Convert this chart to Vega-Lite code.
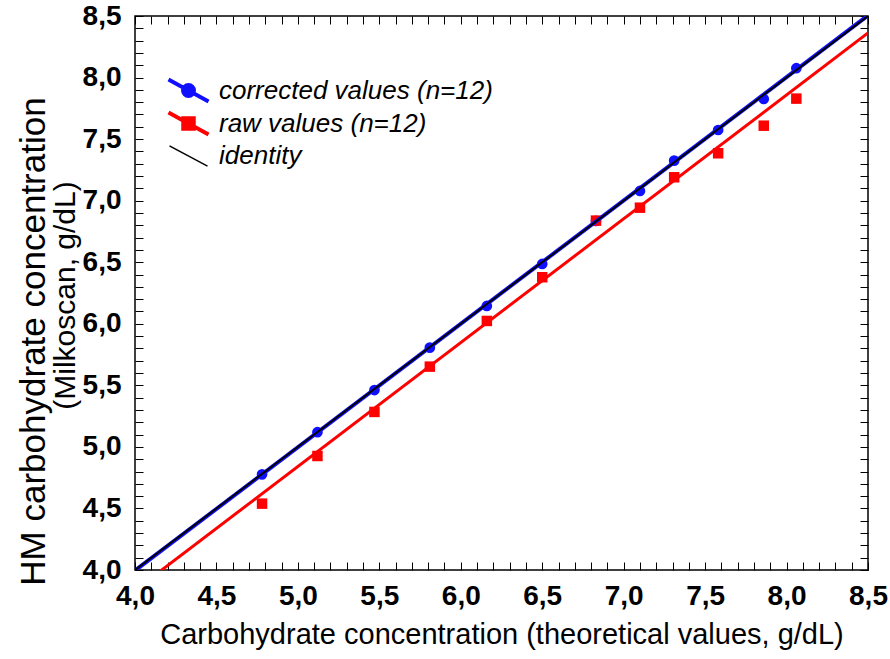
{
  "$schema": "https://vega.github.io/schema/vega-lite/v6.json",
  "autosize": {"type": "none"},
  "width": 733,
  "height": 554,
  "padding": {"left": 135, "top": 16, "right": 22, "bottom": 89},
  "background": "white",
  "config": {
    "font": "Liberation Sans",
    "view": {"stroke": "#000000", "strokeWidth": 1.5},
    "axis": {
      "grid": false,
      "domain": false,
      "tickColor": "#000000",
      "tickWidth": 1,
      "labelFont": "Liberation Sans",
      "labelFontWeight": "bold",
      "labelFontSize": 28,
      "labelColor": "#000000",
      "labelOverlap": false,
      "labelFlush": false,
      "labelBound": false,
      "titleFont": "Liberation Sans",
      "titleFontWeight": "normal",
      "titleFontSize": 29,
      "titleColor": "#000000"
    },
    "legend": {
      "title": null,
      "orient": "none",
      "legendX": 40,
      "legendY": 61,
      "padding": 0,
      "symbolSize": 500,
      "symbolOpacity": 1,
      "rowPadding": -6,
      "labelOffset": 17,
      "labelFont": "Liberation Sans",
      "labelFontStyle": "italic",
      "labelFontSize": 26,
      "labelColor": "#000000",
      "labelLimit": 500
    }
  },
  "datasets": {
    "points": [
      {"series": "corrected values (n=12)", "theoretical": 4.78, "measured": 4.777},
      {"series": "corrected values (n=12)", "theoretical": 5.12, "measured": 5.119},
      {"series": "corrected values (n=12)", "theoretical": 5.47, "measured": 5.462},
      {"series": "corrected values (n=12)", "theoretical": 5.81, "measured": 5.806},
      {"series": "corrected values (n=12)", "theoretical": 6.16, "measured": 6.145},
      {"series": "corrected values (n=12)", "theoretical": 6.50, "measured": 6.486},
      {"series": "corrected values (n=12)", "theoretical": 6.83, "measured": 6.835},
      {"series": "corrected values (n=12)", "theoretical": 7.10, "measured": 7.079},
      {"series": "corrected values (n=12)", "theoretical": 7.31, "measured": 7.325},
      {"series": "corrected values (n=12)", "theoretical": 7.58, "measured": 7.574},
      {"series": "corrected values (n=12)", "theoretical": 7.86, "measured": 7.826},
      {"series": "corrected values (n=12)", "theoretical": 8.06, "measured": 8.076},
      {"series": "raw values (n=12)", "theoretical": 4.78, "measured": 4.539},
      {"series": "raw values (n=12)", "theoretical": 5.12, "measured": 4.926},
      {"series": "raw values (n=12)", "theoretical": 5.47, "measured": 5.284},
      {"series": "raw values (n=12)", "theoretical": 5.81, "measured": 5.652},
      {"series": "raw values (n=12)", "theoretical": 6.16, "measured": 6.023},
      {"series": "raw values (n=12)", "theoretical": 6.50, "measured": 6.378},
      {"series": "raw values (n=12)", "theoretical": 6.83, "measured": 6.838},
      {"series": "raw values (n=12)", "theoretical": 7.10, "measured": 6.943},
      {"series": "raw values (n=12)", "theoretical": 7.31, "measured": 7.190},
      {"series": "raw values (n=12)", "theoretical": 7.58, "measured": 7.385},
      {"series": "raw values (n=12)", "theoretical": 7.86, "measured": 7.609},
      {"series": "raw values (n=12)", "theoretical": 8.06, "measured": 7.829}
    ],
    "lines": [
      {"series": "corrected values (n=12)", "theoretical": 4.0, "measured": 3.995},
      {"series": "corrected values (n=12)", "theoretical": 8.5, "measured": 8.505},
      {"series": "raw values (n=12)", "theoretical": 4.0, "measured": 3.835},
      {"series": "raw values (n=12)", "theoretical": 8.5, "measured": 8.362},
      {"series": "identity", "theoretical": 4.0, "measured": 4.0},
      {"series": "identity", "theoretical": 8.5, "measured": 8.5}
    ]
  },
  "resolve": {"axis": {"x": "independent", "y": "independent"}},
  "layer": [
    {
      "data": {"name": "points"},
      "transform": [{"filter": "datum.series === 'corrected values (n=12)'"}],
      "mark": {"type": "point", "shape": "circle", "filled": true, "opacity": 1, "size": 115, "color": "#1010ff"},
      "encoding": {
        "x": {
          "field": "theoretical", "type": "quantitative",
          "scale": {"domain": [4, 8.5], "nice": false, "zero": false},
          "axis": {
            "orient": "bottom",
            "title": "Carbohydrate concentration (theoretical values, g/dL)",
            "values": [4.0,4.1,4.2,4.3,4.4,4.5,4.6,4.7,4.8,4.9,5.0,5.1,5.2,5.3,5.4,5.5,5.6,5.7,5.8,5.9,6.0,6.1,6.2,6.3,6.4,6.5,6.6,6.7,6.8,6.9,7.0,7.1,7.2,7.3,7.4,7.5,7.6,7.7,7.8,7.9,8.0,8.1,8.2,8.3,8.4,8.5],
            "labelExpr": "abs(datum.value*2 - round(datum.value*2)) < 0.01 ? replace(format(datum.value, '.1f'), '.', ',') : ''",
            "tickSize": -8,
            "labelPadding": 20,
            "titlePadding": 10,
            "encode": {"ticks": {"y2": {"condition": {"test": "abs(datum.value*2 - round(datum.value*2)) < 0.01", "value": -8}, "value": -4}}}
          }
        },
        "y": {
          "field": "measured", "type": "quantitative",
          "scale": {"domain": [4, 8.5], "nice": false, "zero": false},
          "axis": {
            "orient": "left",
            "title": "(Milkoscan, g/dL)",
            "titleFontSize": 30,
            "titleBaseline": "middle",
            "titleX": -70,
            "titleY": 279,
            "values": [4.0,4.1,4.2,4.3,4.4,4.5,4.6,4.7,4.8,4.9,5.0,5.1,5.2,5.3,5.4,5.5,5.6,5.7,5.8,5.9,6.0,6.1,6.2,6.3,6.4,6.5,6.6,6.7,6.8,6.9,7.0,7.1,7.2,7.3,7.4,7.5,7.6,7.7,7.8,7.9,8.0,8.1,8.2,8.3,8.4,8.5],
            "labelExpr": "abs(datum.value*2 - round(datum.value*2)) < 0.01 ? replace(format(datum.value, '.1f'), '.', ',') : ''",
            "tickSize": -8,
            "labelPadding": 22,
            "encode": {"ticks": {"x2": {"condition": {"test": "abs(datum.value*2 - round(datum.value*2)) < 0.01", "value": 8}, "value": 4}}}
          }
        }
      }
    },
    {
      "data": {"name": "points"},
      "transform": [{"filter": "datum.series === 'raw values (n=12)'"}],
      "mark": {"type": "point", "shape": "square", "filled": true, "opacity": 1, "size": 110, "color": "#ff0000"},
      "encoding": {
        "x": {"field": "theoretical", "type": "quantitative", "axis": null},
        "y": {
          "field": "measured", "type": "quantitative",
          "axis": {
            "orient": "left",
            "title": "HM carbohydrate concentration",
            "titleFontSize": 35,
            "titleBaseline": "middle",
            "titleX": -102,
            "titleY": 325,
            "labels": false,
            "ticks": false,
            "domain": false
          }
        }
      }
    },
    {
      "data": {"name": "lines"},
      "transform": [{"filter": "datum.series === 'raw values (n=12)'"}],
      "mark": {"type": "line", "strokeWidth": 3, "clip": true, "color": "#ff0000"},
      "encoding": {
        "x": {"field": "theoretical", "type": "quantitative", "axis": null},
        "y": {"field": "measured", "type": "quantitative", "axis": null}
      }
    },
    {
      "data": {"name": "lines"},
      "transform": [{"filter": "datum.series === 'corrected values (n=12)'"}],
      "mark": {"type": "line", "strokeWidth": 4, "clip": true, "color": "#1010ff"},
      "encoding": {
        "x": {
          "field": "theoretical", "type": "quantitative",
          "axis": {
            "orient": "top", "title": null, "labels": false,
            "values": [4.0,4.1,4.2,4.3,4.4,4.5,4.6,4.7,4.8,4.9,5.0,5.1,5.2,5.3,5.4,5.5,5.6,5.7,5.8,5.9,6.0,6.1,6.2,6.3,6.4,6.5,6.6,6.7,6.8,6.9,7.0,7.1,7.2,7.3,7.4,7.5,7.6,7.7,7.8,7.9,8.0,8.1,8.2,8.3,8.4,8.5],
            "tickSize": -8,
            "encode": {"ticks": {"y2": {"condition": {"test": "abs(datum.value*2 - round(datum.value*2)) < 0.01", "value": 8}, "value": 4}}}
          }
        },
        "y": {
          "field": "measured", "type": "quantitative",
          "axis": {
            "orient": "right", "title": null, "labels": false,
            "values": [4.0,4.1,4.2,4.3,4.4,4.5,4.6,4.7,4.8,4.9,5.0,5.1,5.2,5.3,5.4,5.5,5.6,5.7,5.8,5.9,6.0,6.1,6.2,6.3,6.4,6.5,6.6,6.7,6.8,6.9,7.0,7.1,7.2,7.3,7.4,7.5,7.6,7.7,7.8,7.9,8.0,8.1,8.2,8.3,8.4,8.5],
            "tickSize": -8,
            "encode": {"ticks": {"x2": {"condition": {"test": "abs(datum.value*2 - round(datum.value*2)) < 0.01", "value": -8}, "value": -4}}}
          }
        }
      }
    },
    {
      "data": {"name": "lines"},
      "transform": [{"filter": "datum.series === 'identity'"}],
      "mark": {"type": "line", "strokeWidth": 2, "clip": true, "color": "#000000"},
      "encoding": {
        "x": {"field": "theoretical", "type": "quantitative", "axis": null},
        "y": {"field": "measured", "type": "quantitative", "axis": null}
      }
    },
    {
      "data": {"name": "lines"},
      "mark": {"type": "point", "filled": true, "opacity": 0, "clip": true},
      "encoding": {
        "x": {"field": "theoretical", "type": "quantitative", "axis": null},
        "y": {"field": "measured", "type": "quantitative", "axis": null},
        "color": {
          "field": "series", "type": "nominal",
          "scale": {"domain": ["corrected values (n=12)", "raw values (n=12)", "identity"], "range": ["#1010ff", "#ff0000", "#000000"]}
        },
        "stroke": {
          "field": "series", "type": "nominal",
          "scale": {"domain": ["corrected values (n=12)", "raw values (n=12)", "identity"], "range": ["#1010ff", "#ff0000", "#000000"]}
        },
        "shape": {
          "field": "series", "type": "nominal",
          "scale": {
            "domain": ["corrected values (n=12)", "raw values (n=12)", "identity"],
            "range": [
              "M-1.79,-0.98L1.79,0.98M-0.49,0A0.49,0.49 0 1,1 0.49,0A0.49,0.49 0 1,1 -0.49,0Z",
              "M-1.79,-0.98L1.79,0.98M-0.47,-0.47L0.47,-0.47L0.47,0.47L-0.47,0.47Z",
              "M-1.7,-0.9L1.7,0.9"
            ]
          }
        },
        "strokeWidth": {
          "field": "series", "type": "nominal",
          "scale": {"type": "ordinal", "domain": ["corrected values (n=12)", "raw values (n=12)", "identity"], "range": [4, 4, 1.5]}
        }
      }
    }
  ]
}
